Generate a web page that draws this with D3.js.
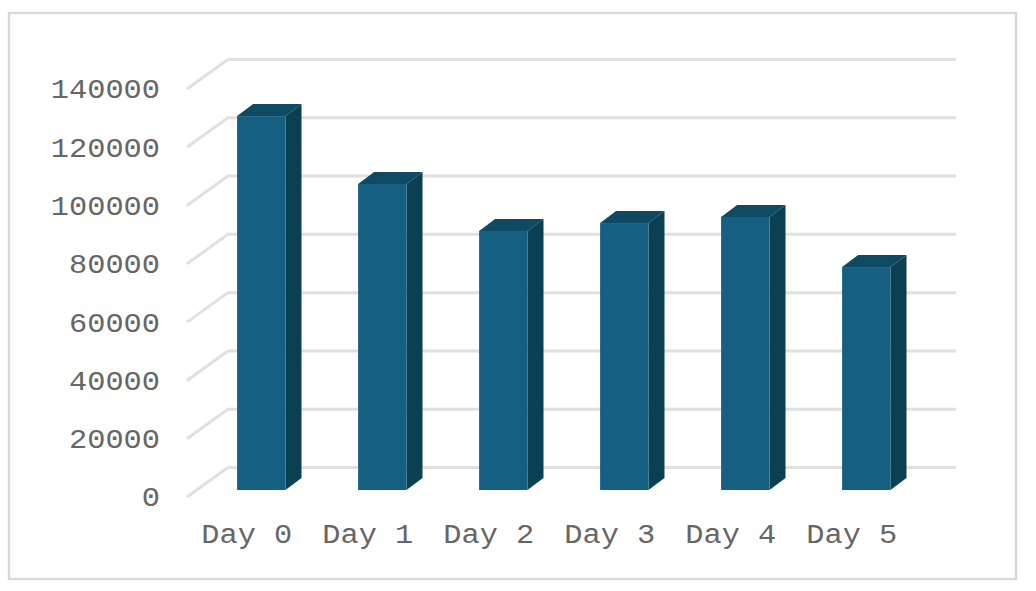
<!DOCTYPE html>
<html><head><meta charset="utf-8">
<script src="https://cdn.jsdelivr.net/npm/d3@7"></script>
<style>html,body{margin:0;padding:0;background:#fff}svg{display:block}text{font-family:"Liberation Mono",monospace;fill:#666;font-size:27px}</style>
</head><body><svg id="c" width="1036" height="591"></svg>
<script>
const categories=["Day 0","Day 1","Day 2","Day 3","Day 4","Day 5"];
const values=[128300,105000,88900,91600,93700,76500];
const tickValues=[0,20000,40000,60000,80000,100000,120000,140000];
const svg=d3.select("#c");
svg.append("rect").attr("x",9).attr("y",13).attr("width",1007).attr("height",566).attr("fill","#fff").attr("stroke","#d9d9d9").attr("stroke-width",2.5);
const y=d3.scaleLinear().domain([0,140000]).range([497,89]);
const x=d3.scaleBand().domain(categories).range([200.8,926.8]).paddingInner(0.6).paddingOuter(0.3);
const wall={dx:41,dy:-29.5,right:956};
const barBase=490,yBar=v=>y(v)-(y(0)-barBase);
const dep={dx:16,dy:-12};
const grid=svg.append("g").attr("fill","none").attr("stroke","#e0e0e0").attr("stroke-width",3);
grid.selectAll("path").data(tickValues).join("path")
 .attr("d",v=>{const p=d3.path();p.moveTo(187,y(v));p.lineTo(187+wall.dx,y(v)+wall.dy);p.lineTo(wall.right,y(v)+wall.dy);return p.toString();});
svg.append("g").selectAll("text").data(tickValues).join("text")
 .attr("x",160).attr("y",v=>y(v)+0.5).attr("dy","0.33em").attr("text-anchor","end")
 .attr("textLength",v=>String(v).length*18.2).attr("lengthAdjust","spacingAndGlyphs").text(v=>v);
const bars=svg.append("g").selectAll("g").data(categories).join("g");
const xs=c=>x(c), w=x.bandwidth();
bars.append("path").attr("fill","#0f4a63").attr("d",(c,i)=>{const t=yBar(values[i]),l=xs(c);
 return `M${l},${t}L${l+dep.dx},${t+dep.dy}H${l+w+dep.dx}L${l+w},${t}Z`;});
bars.append("path").attr("fill","#0b3f52").attr("d",(c,i)=>{const t=yBar(values[i]),r=xs(c)+w;
 return `M${r},${t}L${r+dep.dx},${t+dep.dy}V${barBase+dep.dy}L${r},${barBase}Z`;});
bars.append("rect").attr("fill","#156082").attr("x",c=>xs(c)).attr("width",w)
 .attr("y",(c,i)=>yBar(values[i])).attr("height",(c,i)=>barBase-yBar(values[i]));
svg.append("g").selectAll("text").data(categories).join("text")
 .attr("x",c=>xs(c)+w/2-14.5).attr("y",543).attr("text-anchor","middle")
 .attr("textLength",91).attr("lengthAdjust","spacingAndGlyphs").text(c=>c);
</script></body></html>
